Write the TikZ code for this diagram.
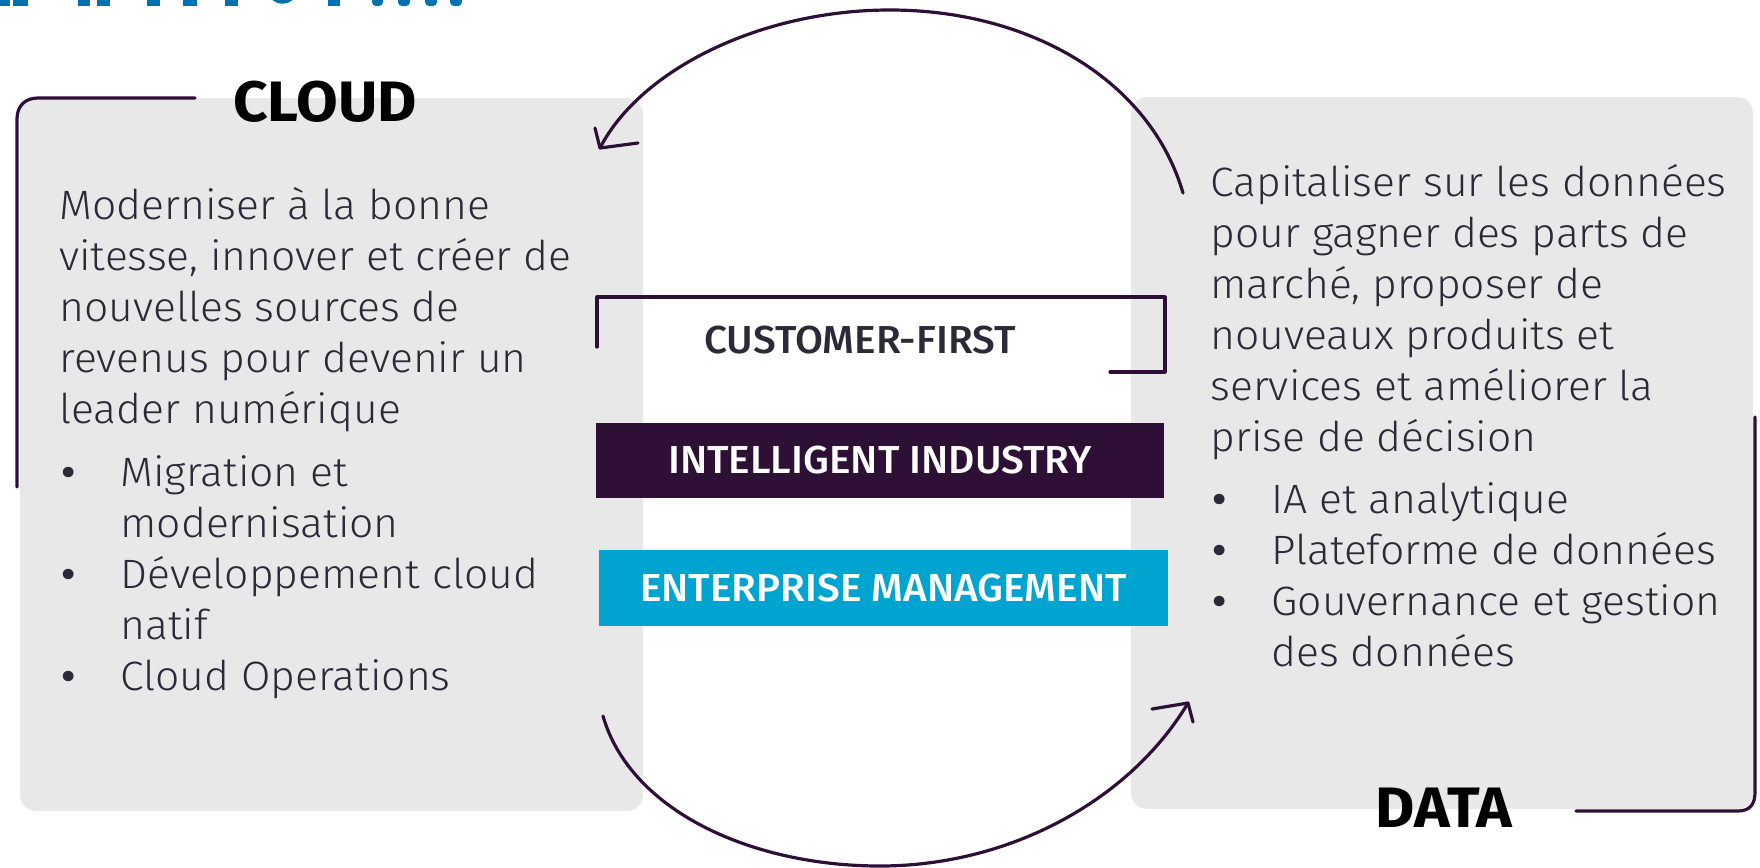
\documentclass[tikz,border=0pt]{standalone}
\usepackage{fontspec}
\setmainfont{Fira Sans Light}[FakeStretch=1.04]
\newfontfamily\headfont{Fira Sans Bold}[FakeStretch=1.06]
\newfontfamily\bandfont{Fira Sans Medium}[FakeStretch=1.04]
\usepackage{xcolor}
\definecolor{boxgrey}{RGB}{232,232,232}
\definecolor{plum}{RGB}{46,16,54}
\definecolor{sky}{RGB}{0,164,209}
\definecolor{ink}{RGB}{42,42,56}
\definecolor{titleblue}{RGB}{0,114,176}
\newcommand{\dotitem}{\makebox[29.5pt][l]{\bandfont •}}

\begin{document}
\begin{tikzpicture}[x=0.5pt,y=-0.5pt,
  pen/.style={plum,line width=1.6pt,line cap=round,line join=round},
  panel/.style={fill=boxgrey,rounded corners=8pt},
  band/.style={text=white,inner sep=0pt,font=\bandfont\fontsize{19.5}{22}\selectfont},
  body/.style={text=ink,align=left,inner sep=0pt,font=\fontsize{20.5}{25.5}\selectfont},
  head/.style={inner sep=0pt,font=\headfont\fontsize{28.5}{30}\selectfont}]
\useasboundingbox (0,0) rectangle (1760,867);

% bottom of the title, cut by the page edge
\foreach \a/\b in {0/10,13/28,78/90,97/110,147/160,183/197,225/238,328/340}
  \fill[titleblue] (\a,-5) rectangle (\b,6);
\foreach \a/\b in {372/383,398/410,425/437,450/462}
  \fill[titleblue,rounded corners=2pt] (\a,-8) rectangle (\b,6);
\draw[titleblue,line width=2.5pt] (270,-10) .. controls (272,5) and (293,5) .. (295,-10);

% panels
\fill[panel] (20,98) rectangle (643,811);
\fill[panel] (1131,97) rectangle (1753,809);

% hand drawn borders
\draw[pen] (195,98) -- (38,98) .. controls (25,98) and (17,106) .. (17,119) -- (17,487);
\draw[pen] (1755,417) -- (1755,792) .. controls (1755,804) and (1750,811) .. (1738,811) -- (1576,811);

\node[head] (cloud) at (325,102) {CLOUD};
\node[head] (data) at (1444,808) {DATA};

% left panel text (anchored on the last line)
\node[body,anchor=base west] (cloudtext) at (59,423)
  {Moderniser à la bonne\\vitesse, innover et créer de\\nouvelles sources de\\revenus pour devenir un\\leader numérique};
\node[body,anchor=base west] (cloudlist) at (61,690)
  {\dotitem Migration et\\\hspace*{29.5pt}modernisation\\
   \dotitem Développement cloud\\\hspace*{29.5pt}natif\\
   \dotitem Cloud Operations};

% right panel text
\node[body,anchor=base west] (datatext) at (1210,451)
  {Capitaliser sur les données\\pour gagner des parts de\\marché, proposer de\\nouveaux produits et\\services et améliorer la\\prise de décision};
\node[body,anchor=base west] (datalist) at (1212,666)
  {\dotitem IA et analytique\\
   \dotitem Plateforme de données\\
   \dotitem Gouvernance et gestion\\\hspace*{29.5pt}des données};

% centre
\node[band,text=ink] (customer) at (860,340) {CUSTOMER-FIRST};
\draw[pen] (597,347) -- (597,297) -- (1165,297) -- (1165,372) -- (1110,372);
\node[band,fill=plum,minimum width=284pt,minimum height=37.5pt] (industry) at (880,460.5) {INTELLIGENT INDUSTRY};
\node[band,fill=sky,minimum width=284.5pt,minimum height=38pt] (enterprise) at (883.5,588) {ENTERPRISE MANAGEMENT};

% arcs
\coordinate (topstart) at (1183,193);
\coordinate (toptip) at (600,148);
\draw[pen] (topstart) .. controls (1150,80) and (1030,10) .. (890,10)
  .. controls (760,10) and (640,70) .. (toptip);
\draw[pen] (595,128) -- (toptip) -- (638,143);

\coordinate (botstart) at (603,716);
\coordinate (bottip) at (1188,703);
\draw[pen] (botstart) .. controls (630,810) and (750,866) .. (880,866)
  .. controls (1010,866) and (1130,800) .. (bottip);
\draw[pen] (1152,709) -- (bottip) -- (1193,722);

\end{tikzpicture}
\end{document}
